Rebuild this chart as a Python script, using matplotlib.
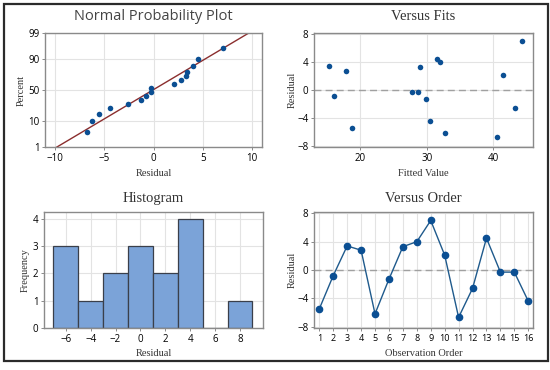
import matplotlib
matplotlib.use("Agg")
import matplotlib.pyplot as plt
from matplotlib.patches import Rectangle
from statistics import NormalDist
import numpy as np

# ---- data ----
order = list(range(1, 17))
residuals = [-5.5, -0.8, 3.4, 2.8, -6.2, -1.3, 3.3, 4.0, 7.0, 2.1, -6.7, -2.6, 4.5, -0.3, -0.3, -4.4]
fitted = [18.8, 16.0, 15.2, 17.8, 32.8, 29.9, 29.0, 32.0, 44.3, 41.5, 40.6, 43.3, 31.5, 27.8, 28.6, 30.5]
hist_edges = [-7, -5, -3, -1, 1, 3, 5, 7, 9]
pct_ticks = [1, 10, 50, 90, 99]

W, H = 550, 370
fig = plt.figure(figsize=(5.5, 3.7), dpi=100)

def ax_px(l, t, r, b):
    return fig.add_axes([l / W, 1 - b / H, (r - l) / W, (b - t) / H])

PT = '#0B4F93'
SP = '#8a8a8a'
GR = '#e3e3e3'
sans = ['Open Sans', 'DejaVu Sans']
serif = ['Liberation Serif', 'DejaVu Serif']

def style(ax):
    for s in ax.spines.values():
        s.set_color(SP)
        s.set_linewidth(1.0)
    ax.tick_params(labelsize=7, length=2.5, width=0.7, color=SP, pad=1.5)
    for lab in ax.get_xticklabels() + ax.get_yticklabels():
        lab.set_family(sans)
    ax.grid(True, color=GR, linewidth=0.8)
    ax.set_axisbelow(True)

nd = NormalDist()

# ---- Normal probability plot ----
ax1 = ax_px(45, 33, 262, 147)
n = len(residuals)
sr = np.sort(residuals)
probs = [(i + 1 - 0.3) / (n + 0.4) for i in range(n)]
zs = [nd.inv_cdf(p) for p in probs]
mu = float(np.mean(residuals))
sd = float(np.std(residuals, ddof=1))
xl = np.array([-11, 11])
ax1.plot(xl, (xl - mu) / sd, color='#8B2E2E', linewidth=1.0, zorder=2)
ax1.scatter(sr, zs, s=16, color=PT, zorder=3, linewidths=0)
ax1.set_xlim(-11, 11)
ax1.set_ylim(nd.inv_cdf(0.01), nd.inv_cdf(0.99))
ax1.set_yticks([nd.inv_cdf(p / 100) for p in pct_ticks])
ax1.set_yticklabels([str(p) for p in pct_ticks])
ax1.set_xticks([-10, -5, 0, 5, 10])
ax1.set_xticklabels(['\u221210', '\u22125', '0', '5', '10'])
style(ax1)

# ---- Versus fits ----
ax2 = ax_px(314, 33, 533, 147)
ax2.axhline(0, color='#a0a0a0', linestyle=(0, (5, 3)), linewidth=1.0, zorder=2)
ax2.scatter(fitted, residuals, s=16, color=PT, zorder=3, linewidths=0)
ax2.set_xlim(13, 46)
ax2.set_ylim(-8.2, 8.2)
ax2.set_xticks([20, 30, 40])
ax2.set_yticks([-8, -4, 0, 4, 8])
ax2.set_yticklabels(['\u22128', '\u22124', '0', '4', '8'])
style(ax2)

# ---- Histogram ----
ax3 = ax_px(44, 212, 263, 328)
ax3.hist(residuals, bins=hist_edges, color='#7BA3D8', edgecolor='#3a3f4a', linewidth=0.9, zorder=2)
ax3.set_xlim(-7.75, 9.85)
ax3.set_ylim(0, 4.25)
ax3.set_xticks([-6, -4, -2, 0, 2, 4, 6, 8])
ax3.set_xticklabels(['\u22126', '\u22124', '\u22122', '0', '2', '4', '6', '8'])
ax3.set_yticks([0, 1, 2, 3, 4])
style(ax3)

# ---- Versus order ----
ax4 = ax_px(314, 212, 533, 328)
ax4.axhline(0, color='#a0a0a0', linestyle=(0, (5, 3)), linewidth=1.0, zorder=2)
ax4.plot(order, residuals, color='#1F5A8C', linewidth=1.0, marker='o', markersize=4.5,
         markerfacecolor=PT, markeredgecolor=PT, zorder=3)
ax4.set_xlim(0.62, 16.34)
ax4.set_ylim(-8.2, 8.2)
ax4.set_xticks(order)
ax4.set_yticks([-8, -4, 0, 4, 8])
ax4.set_yticklabels(['\u22128', '\u22124', '0', '4', '8'])
style(ax4)
ax4.tick_params(axis='x', labelsize=6.5)
for lab in ax4.get_xticklabels():
    lab.set_family(sans)

# ---- titles / labels ----
def ft(x, y, s, **kw):
    fig.text(x / W, 1 - y / H, s, ha='center', va='center', **kw)

ft(153.5, 17, 'Normal Probability Plot', fontsize=10.5, family=sans, color='#444444')
ft(423.5, 17, 'Versus Fits', fontsize=10.5, family=serif, color='#333333')
ft(153.5, 199, 'Histogram', fontsize=10.5, family=serif, color='#333333')
ft(423.5, 199, 'Versus Order', fontsize=10.5, family=serif, color='#333333')

ft(153.5, 173, 'Residual', fontsize=7.5, family=serif, color='#333333')
ft(423.5, 173, 'Fitted Value', fontsize=7.5, family=serif, color='#333333')
ft(153.5, 353, 'Residual', fontsize=7.5, family=serif, color='#333333')
ft(423.5, 353, 'Observation Order', fontsize=7.5, family=serif, color='#333333')

ft(21, 90, 'Percent', fontsize=7.5, family=serif, color='#333333', rotation=90)
ft(292, 90, 'Residual', fontsize=7.5, family=serif, color='#333333', rotation=90)
ft(25, 270, 'Frequency', fontsize=7.5, family=serif, color='#333333', rotation=90)
ft(292, 270, 'Residual', fontsize=7.5, family=serif, color='#333333', rotation=90)

# ---- outer border ----
fig.patches.append(Rectangle((3.5 / W, 1 - 361 / H), (548 - 3.5) / W, (361 - 3.5) / H,
                             transform=fig.transFigure, fill=False, edgecolor='#2b2b2b',
                             linewidth=1.6))

fig.savefig('out.png', dpi=100)
